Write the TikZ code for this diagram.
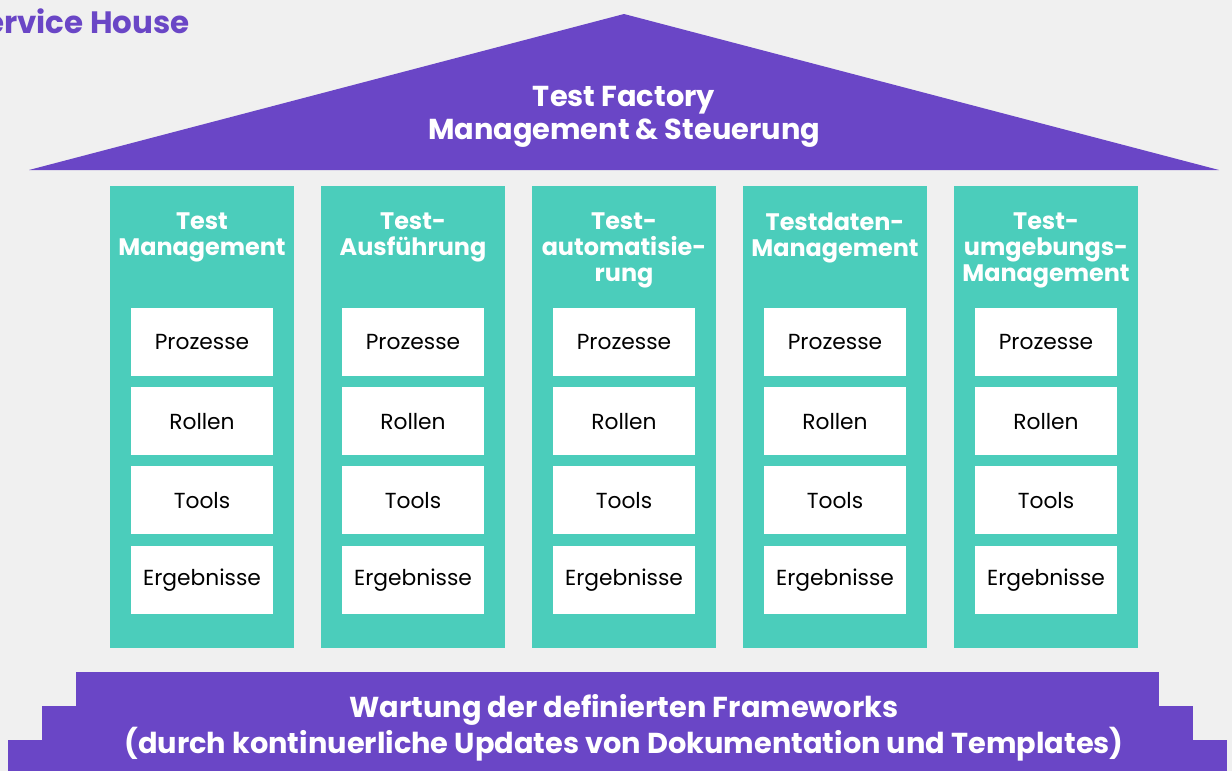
\documentclass[tikz,border=0pt]{standalone}
\usepackage{fontspec}
\setmainfont{Poppins}
\definecolor{housepurple}{HTML}{6A46C6}
\definecolor{pillarteal}{HTML}{4BCDBB}
\definecolor{bggray}{HTML}{F0F0F0}

\tikzset{
pillar/.style={fill=pillarteal,anchor=north,inner sep=0pt,
minimum width=3.68cm,minimum height=9.24cm},
pillartitle/.style={anchor=north,text=white,align=center,inner sep=0pt,
font=\bfseries\fontsize{13.6}{15}\selectfont},
pillarbox/.style={fill=white,anchor=north,inner sep=0pt,
minimum width=2.86cm,minimum height=1.36cm,font=\fontsize{12.4}{14}\selectfont},
bigtext/.style={text=white,align=center,inner sep=0pt,
font=\bfseries\fontsize{16.4}{19}\selectfont}
}

\begin{document}
\begin{tikzpicture}[x=0.02cm,y=-0.02cm]
\clip(0,0)rectangle(1232,771);
\fill[bggray](0,0)rectangle(1232,771);

\node[anchor=east,inner sep=0pt,text=housepurple,
font=\bfseries\fontsize{17.6}{20}\selectfont](T0)at(190,21){Service House};

% roof
\fill[housepurple](29,170)--(624,14)--(1219,170)--cycle;
\node[bigtext](R1)at(624,117){Test Factory\\Management \& Steuerung};

% pillars
\foreach \n/\x/\t in {1/202/{Test\\Management},
2/413/{Test-\\Ausführung},
3/624/{Test-\\automatisie-\\rung},
4/835/{Testdaten-\\Management},
5/1046/{Test-\\umgebungs-\\Management}}{
\node[pillar](P\n)at(\x,186){};
\node[pillartitle](H\n)at(\x,212){\t};
\node[pillarbox](B\n1)at(\x,308){Prozesse};
\node[pillarbox](B\n2)at(\x,387){Rollen};
\node[pillarbox](B\n3)at(\x,466){Tools};
\node[pillarbox](B\n4)at(\x,546){Ergebnisse};
}

% base steps
\fill[housepurple](76,672)rectangle(1159,771);
\fill[housepurple](42,706)rectangle(1193,771);
\fill[housepurple](8,740)rectangle(1227,771);
\node[bigtext](F1)at(624,728){Wartung der definierten Frameworks\\
(durch kontinuerliche Updates von Dokumentation und Templates)};
\end{tikzpicture}
\end{document}
